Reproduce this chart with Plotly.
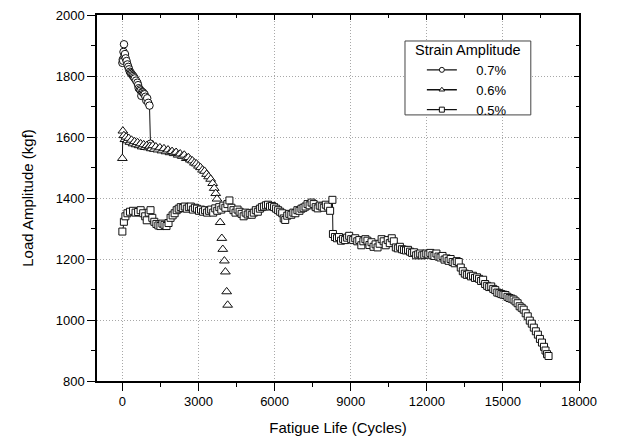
import plotly.graph_objects as go

# ---------------- data ----------------
circ_x = [0, 15, 30, 45, 64, 85, 103, 130, 167, 200, 232, 265, 296, 330, 361, 395, 425, 460,
          489, 540, 592, 620, 644, 690, 721, 747, 780, 811, 845, 876, 910, 940, 979, 1020,
          1069, 1108]
circ_y = [1843, 1854, 1850, 1879, 1904, 1865, 1872, 1858, 1849, 1838, 1830, 1822, 1814, 1810,
          1807, 1803, 1800, 1796, 1792, 1785, 1778, 1770, 1760, 1756, 1752, 1735, 1748, 1746,
          1742, 1740, 1732, 1720, 1727, 1712, 1703, 1578]

tri_x = [0, 20, 60, 100, 150, 200, 250, 300, 360, 420, 480, 540, 600, 660, 720, 780, 840,
         900, 960, 1020, 1080, 1140, 1200, 1260, 1320, 1400, 1480, 1560, 1640, 1720, 1800,
         1880, 1960, 2040, 2120, 2200, 2280, 2360, 2440, 2520, 2600, 2680, 2760, 2840, 2920,
         3000, 3080, 3160, 3240, 3320, 3400, 3480, 3560, 3620, 3680, 3730]
tri_y = [1530, 1620, 1605, 1592, 1600, 1588, 1596, 1583, 1590, 1578, 1585, 1575, 1582, 1572,
         1578, 1568, 1575, 1566, 1572, 1565, 1570, 1562, 1572, 1560, 1568, 1558, 1565, 1555,
         1562, 1552, 1558, 1549, 1553, 1546, 1550, 1541, 1545, 1537, 1541, 1530, 1533, 1525,
         1522, 1515, 1512, 1505, 1500, 1492, 1488, 1478, 1470, 1462, 1448, 1432, 1415, 1397]

tri_drop_x = [3855, 3920, 3958, 4022, 4061, 4112, 4150]
tri_drop_y = [1320, 1268, 1232, 1194, 1158, 1093, 1049]

sq_x = [0, 60, 120, 200, 300, 420, 520, 620, 720, 820, 900, 960, 1040, 1110, 1180, 1260,
        1340, 1420, 1500, 1580, 1660, 1740, 1820, 1900, 1980, 2060, 2140, 2220, 2300, 2380,
        2460, 2540, 2620, 2700, 2780, 2860, 2940, 3020, 3100, 3180, 3260, 3340, 3420, 3500,
        3580, 3660, 3740, 3820, 3900, 3980, 4060, 4140, 4220, 4300, 4380, 4460, 4540, 4620,
        4700, 4780, 4860, 4940, 5020, 5100, 5180, 5260, 5340, 5420, 5500, 5580, 5660, 5740,
        5820, 5900, 5980, 6060, 6140, 6220, 6300, 6360, 6420, 6500, 6580, 6660, 6740, 6820,
        6900, 6980, 7060, 7140, 7220, 7300, 7380, 7460, 7540, 7620, 7700, 7780, 7860, 7940,
        8020, 8100, 8190, 8280, 8300, 8380, 8460, 8540, 8620, 8700, 8780, 8860, 8940, 9020,
        9100, 9180, 9260, 9340, 9420, 9500, 9580, 9660, 9740, 9820, 9900, 9980, 10060, 10140,
        10220, 10300, 10380, 10460, 10540, 10620, 10700, 10780, 10860, 10940, 11020, 11100,
        11180, 11260, 11340, 11420, 11500, 11580, 11660, 11740, 11820, 11900, 11980, 12060,
        12140, 12220, 12300, 12380, 12460, 12540, 12620, 12700, 12780, 12860, 12940, 13020,
        13100, 13180, 13260, 13340, 13420, 13500, 13580, 13660, 13740, 13820, 13900, 13980,
        14060, 14140, 14220, 14300, 14380, 14460, 14540, 14620, 14700, 14780, 14860, 14940,
        15020, 15100, 15180, 15260, 15340, 15420, 15500, 15580, 15660, 15740, 15820, 15900,
        15980, 16060, 16140, 16220, 16300, 16380, 16460, 16540, 16620, 16680, 16740, 16800]
sq_y = [1290, 1322, 1340, 1350, 1355, 1358, 1352, 1354, 1360, 1350, 1340, 1327, 1352, 1360,
        1335, 1322, 1315, 1310, 1308, 1316, 1312, 1308, 1318, 1335, 1343, 1350, 1360, 1365,
        1370, 1367, 1372, 1365, 1370, 1372, 1362, 1368, 1365, 1358, 1362, 1355, 1360, 1352,
        1358, 1362, 1352, 1366, 1358, 1370, 1362, 1375, 1368, 1380, 1392, 1368, 1360, 1352,
        1362, 1355, 1348, 1340, 1352, 1346, 1350, 1345, 1352, 1360, 1355, 1365, 1370, 1372,
        1376, 1378, 1372, 1374, 1370, 1365, 1360, 1355, 1350, 1333, 1328, 1342, 1348, 1345,
        1352, 1350, 1360, 1358, 1365, 1368, 1372, 1380, 1376, 1385, 1380, 1370, 1366, 1375,
        1372, 1368, 1378, 1372, 1358, 1394, 1282, 1272, 1268, 1272, 1260, 1266, 1262, 1270,
        1276, 1265, 1262, 1268, 1258, 1262, 1245, 1258, 1265, 1260, 1246, 1255, 1240, 1248,
        1238, 1250, 1265, 1258, 1245, 1262, 1252, 1268, 1258, 1238, 1235, 1240, 1232, 1230,
        1228, 1230, 1224, 1220, 1222, 1212, 1215, 1218, 1212, 1214, 1218, 1215, 1220, 1212,
        1210, 1218, 1208, 1205, 1210, 1198, 1202, 1194, 1200, 1190, 1186, 1193, 1190, 1172,
        1160, 1152, 1148, 1150, 1143, 1145, 1138, 1140, 1135, 1128, 1132, 1118, 1112, 1108,
        1110, 1102, 1098, 1090, 1088, 1085, 1083, 1082, 1076, 1072, 1070, 1067, 1061, 1055,
        1045, 1040, 1034, 1022, 1012, 998, 988, 975, 963, 952, 938, 926, 912, 900, 888, 882]

series_names = ["0.7%", "0.6%", "0.5%"]
legend_title = "Strain Amplitude"
x_ticks = [0, 3000, 6000, 9000, 12000, 15000, 18000]
x_ticktext = ["0", "3000", "6000", "9000", "12000", "15000", "18000"]
y_ticks = [800, 1000, 1200, 1400, 1600, 1800, 2000]
y_ticktext = ["800", "1000", "1200", "1400", "1600", "1800", "2000"]
x_range = [-1000, 18000]
y_range = [800, 2000]

FONT = "Arial, Liberation Sans, sans-serif"
INK = "#111111"
GRID = "#a8a8a8"
NB = "\u00a0"

def mk(symbol, size):
    return dict(symbol=symbol, size=size, color="white", line=dict(color=INK, width=1))

fig = go.Figure()

fig.add_trace(go.Scatter(x=circ_x, y=circ_y, mode="lines+markers", showlegend=False,
                         line=dict(color=INK, width=1), marker=mk("circle", 7.5)))
fig.add_trace(go.Scatter(x=tri_x, y=tri_y, mode="lines+markers", showlegend=False,
                         line=dict(color=INK, width=1), marker=mk("triangle-up", 8.5)))
fig.add_trace(go.Scatter(x=tri_drop_x, y=tri_drop_y, mode="markers", showlegend=False,
                         marker=mk("triangle-up", 8.5)))
fig.add_trace(go.Scatter(x=sq_x, y=sq_y, mode="lines+markers", showlegend=False,
                         line=dict(color=INK, width=1), marker=mk("square", 7)))

# legend entries
for name, sym in zip(series_names, ["circle", "triangle-up", "square"]):
    fig.add_trace(go.Scatter(x=[None], y=[None], mode="lines+markers",
                             name=NB * 4 + name,
                             line=dict(color=INK, width=1.3), marker=mk(sym, 5)))

# helper trace for mirrored top/right axes
fig.add_trace(go.Scatter(x=[0], y=[1000], xaxis="x2", yaxis="y2", mode="markers",
                         marker=dict(opacity=0), showlegend=False, hoverinfo="skip"))

axis_common = dict(showline=True, linecolor="black", linewidth=1.5, zeroline=False,
                   automargin=False,
                   tickcolor="black", tickfont=dict(family=FONT, size=13, color="black"))

# legend frame and title
fig.add_shape(type="rect", xref="paper", yref="paper", x0=0.639, x1=0.900, y0=0.727, y1=0.929,
              line=dict(color="#444444", width=1), fillcolor="white", layer="above")
fig.add_annotation(text=legend_title, xref="paper", yref="paper", x=0.770, y=0.904,
                   xanchor="center", yanchor="middle", showarrow=False,
                   font=dict(family=FONT, size=14.5, color="black"))

fig.update_layout(
    width=627, height=438,
    margin=dict(l=97, r=48, t=15, b=57),
    paper_bgcolor="white", plot_bgcolor="white",
    font=dict(family=FONT, color="black"),
    xaxis=dict(range=x_range, tickvals=x_ticks, ticktext=x_ticktext, ticks="outside",
               ticklen=8, tickwidth=1,
               showgrid=True, gridcolor=GRID, griddash="1px,2px", gridwidth=1,
               minor=dict(dtick=1500, tick0=0, ticks="outside", ticklen=4, tickcolor="black",
                          showgrid=False),
               title=dict(text="Fatigue Life (Cycles)", font=dict(family=FONT, size=15),
                          standoff=14),
               **axis_common),
    yaxis=dict(range=y_range, tickvals=y_ticks, ticktext=y_ticktext, ticks="outside",
               ticklen=8, tickwidth=1,
               showgrid=True, gridcolor=GRID, griddash="1px,2px", gridwidth=1,
               minor=dict(dtick=100, tick0=800, ticks="outside", ticklen=4, tickcolor="black",
                          showgrid=False),
               title=dict(text="Load Amplitude (kgf)", font=dict(family=FONT, size=15),
                          standoff=18),
               **axis_common),
    xaxis2=dict(overlaying="x", side="top", range=x_range, tickvals=x_ticks, ticks="inside",
                ticklen=5, showticklabels=False, showgrid=False, showline=True,
                linecolor="black", linewidth=1.5, zeroline=False, tickcolor="black",
                automargin=False,
                minor=dict(dtick=1500, tick0=0, ticks="inside", ticklen=3, tickcolor="black",
                           showgrid=False)),
    yaxis2=dict(overlaying="y", side="right", range=y_range, tickvals=y_ticks, ticks="inside",
                ticklen=5, showticklabels=False, showgrid=False, showline=True,
                linecolor="black", linewidth=1.5, zeroline=False, tickcolor="black",
                automargin=False,
                minor=dict(dtick=100, tick0=800, ticks="inside", ticklen=3, tickcolor="black",
                           showgrid=False)),
    legend=dict(x=0.674, y=0.891, xanchor="left", yanchor="top",
                bgcolor="rgba(0,0,0,0)", borderwidth=0,
                font=dict(family=FONT, size=13, color="black"),
                tracegroupgap=0, itemwidth=30),
)

fig.write_html("out.html", config={"displayModeBar": False},
               post_script="document.body.style.margin='0';")
